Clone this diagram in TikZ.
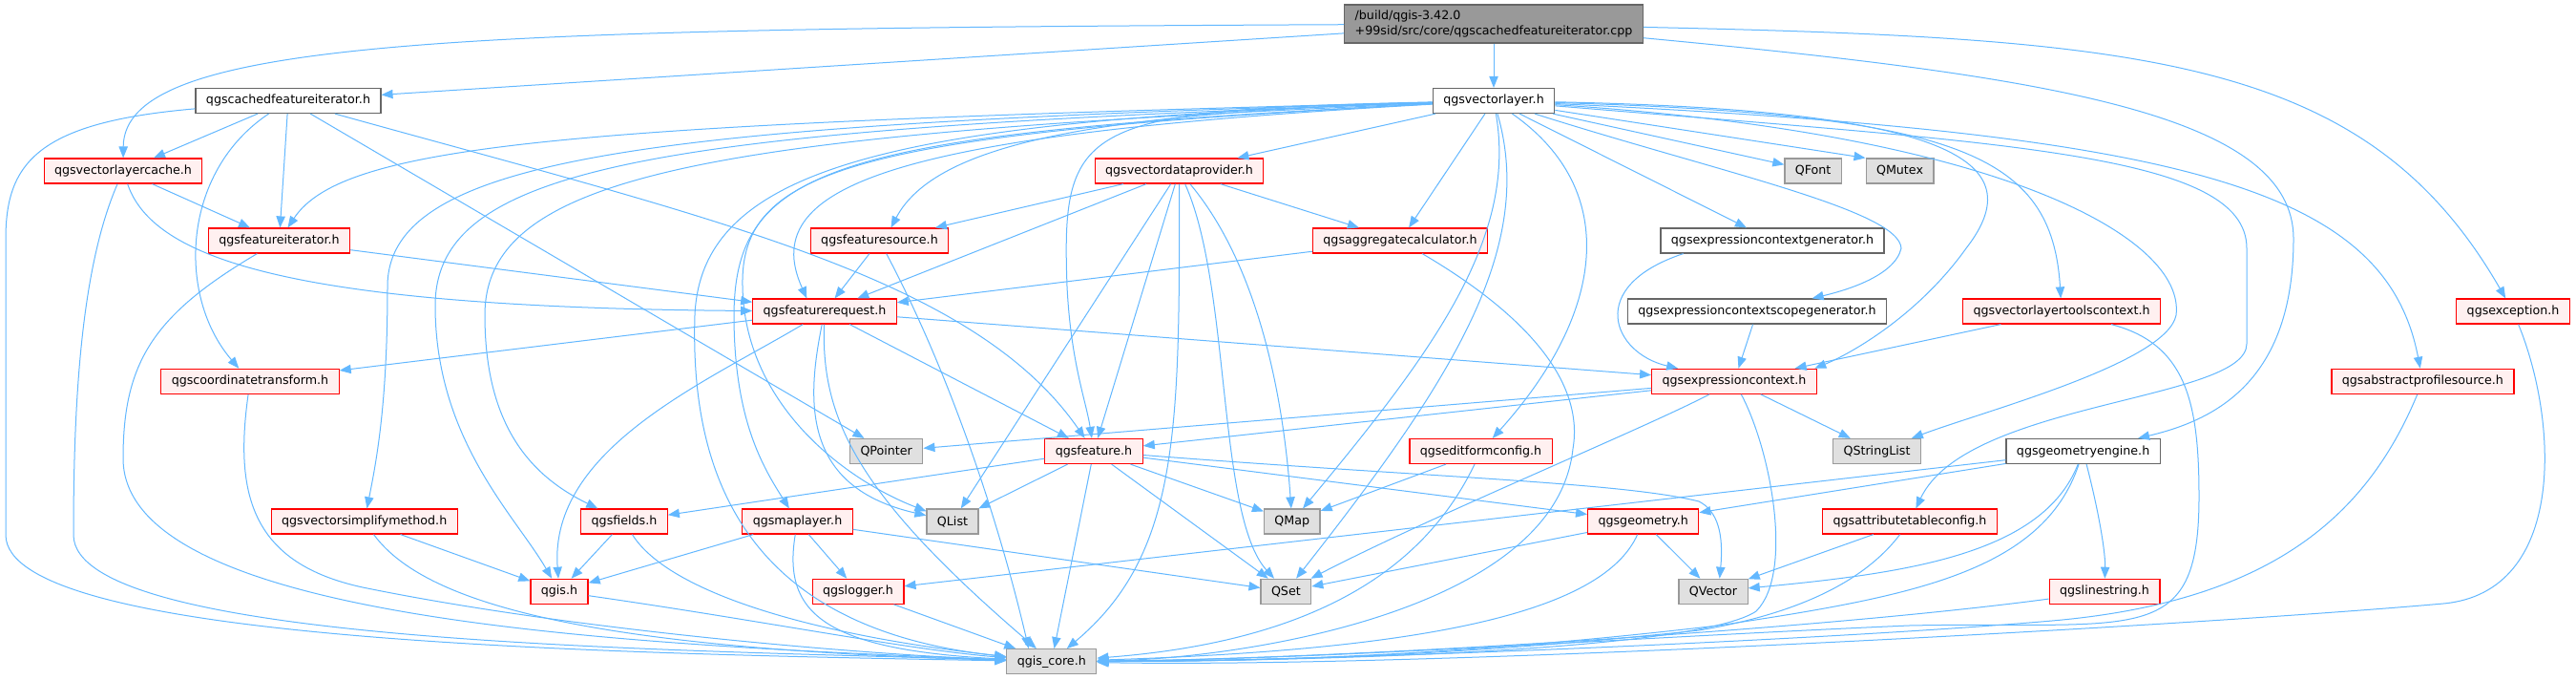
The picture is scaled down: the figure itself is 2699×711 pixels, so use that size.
\documentclass[tikz,border=0pt]{standalone}
\usepackage{fontspec}
\setmainfont{DejaVu Sans}
\usetikzlibrary{arrows.meta}
\definecolor{edgeblue}{HTML}{63B8FF}
\definecolor{hotfill}{HTML}{FFF0F0}
\definecolor{qtfill}{HTML}{E0E0E0}
\definecolor{qtline}{HTML}{999999}
\definecolor{plainline}{HTML}{666666}
\definecolor{rootfill}{HTML}{999999}
\begin{document}
\begin{tikzpicture}
[x=0.75pt,y=-0.75pt,
every node/.style={draw,rectangle,inner xsep=8.2pt,inner ysep=0pt,minimum height=19.5pt,line width=0.9pt,font=\fontsize{9.5}{11.3}\selectfont},
plainbox/.style={draw=plainline,fill=white},
hotbox/.style={draw=red,fill=hotfill},
qtbox/.style={draw=qtline,fill=qtfill},
rootbox/.style={draw=plainline,fill=rootfill,align=left,minimum height=30pt},
incl/.style={draw=edgeblue,line width=0.75pt,-{Triangle[length=9pt,width=7pt]}}]
\fill[white] (0,0) rectangle (2699,711);
\useasboundingbox (0,0) rectangle (2699,711);
\node[rootbox] (root) at (1565,25) {/build/qgis-3.42.0\\+99sid/src/core/qgscachedfeatureiterator.cpp};
\node[plainbox] (cfi) at (302,105.5) {qgscachedfeatureiterator.h};
\node[plainbox] (vl) at (1565,105.5) {qgsvectorlayer.h};
\node[hotbox] (vlc) at (129,179) {qgsvectorlayercache.h};
\node[hotbox] (vdp) at (1235.5,179) {qgsvectordataprovider.h};
\node[qtbox] (qfont) at (1899.6,179) {QFont};
\node[qtbox] (qmutex) at (1990.5,179) {QMutex};
\node[hotbox] (fi) at (292.5,252) {qgsfeatureiterator.h};
\node[hotbox] (fsrc) at (921.5,252) {qgsfeaturesource.h};
\node[hotbox] (aggr) at (1467,252) {qgsaggregatecalculator.h};
\node[plainbox] (ecg) at (1857,252) {qgsexpressioncontextgenerator.h};
\node[hotbox] (freq) at (864,326) {qgsfeaturerequest.h};
\node[plainbox] (ecsg) at (1841,326) {qgsexpressioncontextscopegenerator.h};
\node[hotbox] (vltc) at (2160,326) {qgsvectorlayertoolscontext.h};
\node[hotbox] (exc) at (2633,326) {qgsexception.h};
\node[hotbox] (ct) at (262,399.3) {qgscoordinatetransform.h};
\node[hotbox] (ec) at (1817,399.3) {qgsexpressioncontext.h};
\node[hotbox] (aps) at (2538.4,399.3) {qgsabstractprofilesource.h};
\node[qtbox] (qptr) at (928.7,472.5) {QPointer};
\node[hotbox] (feat) at (1146,472.5) {qgsfeature.h};
\node[hotbox] (efc) at (1551.5,472.5) {qgseditformconfig.h};
\node[qtbox] (qsl) at (1966.5,472.5) {QStringList};
\node[plainbox] (ge) at (2182.6,472.5) {qgsgeometryengine.h};
\node[hotbox] (vsm) at (381.7,546) {qgsvectorsimplifymethod.h};
\node[hotbox] (flds) at (654,546) {qgsfields.h};
\node[hotbox] (ml) at (835.5,546) {qgsmaplayer.h};
\node[qtbox] (qlist) at (998,546) {QList};
\node[qtbox] (qmap) at (1353.8,546) {QMap};
\node[hotbox] (geom) at (1721.7,546) {qgsgeometry.h};
\node[hotbox] (atc) at (2001,546) {qgsattributetableconfig.h};
\node[hotbox] (qgis) at (586,619.3) {qgis.h};
\node[hotbox] (log) at (899,619.3) {qgslogger.h};
\node[qtbox] (qset) at (1347.4,619.3) {QSet};
\node[qtbox] (qvec) at (1795,619.3) {QVector};
\node[hotbox] (ls) at (2205,619.3) {qgslinestring.h};
\node[qtbox] (core) at (1101.8,692.7) {qgis\_core.h};
\foreach \from/\to in {root/cfi,root/vl,cfi/vlc,cfi/fi,cfi/qptr,vlc/fi,fi/freq,fsrc/freq,vdp/fsrc,vdp/freq,vdp/aggr,vdp/qlist,vdp/feat,aggr/freq,vl/vdp,vl/aggr,vl/qfont,vl/ecg,freq/feat,freq/ct,freq/ec,feat/core,feat/qlist,feat/qmap,feat/qset,feat/geom,feat/flds,ecsg/ec,vltc/ec,ec/qsl,ec/qptr,ec/feat,efc/qmap,ge/geom,ge/log,atc/qvec,geom/qset,geom/qvec,ml/qgis,ml/log,ml/qset,flds/qgis,vsm/qgis,log/core}
\draw[incl] (\from) -- (\to);
\draw[incl] (vl) -- (qmutex.north west);
\draw[incl] (root) .. controls (480,30) and (130,40) .. (vlc);
\draw[incl] (root) .. controls (2250,40) and (2480,60) .. (exc);
\draw[incl] (root) .. controls (2150,80) and (2403,120) .. (2403,250) .. controls (2403,400) and (2320,440) .. (ge);
\draw[incl] (cfi) .. controls (40,128) and (6,170) .. (6,250) -- (6,560) .. controls (6,670) and (600,684) .. (core);
\draw[incl] (cfi) .. controls (190,180) and (185,310) .. (ct);
\draw[incl] (cfi) .. controls (750,230) and (1020,290) .. (feat);
\draw[incl] (vlc) .. controls (85,280) and (77,420) .. (77,560) .. controls (77,675) and (700,680) .. (core);
\draw[incl] (vlc) .. controls (160,270) and (300,322) .. (freq);
\draw[incl] (fi) .. controls (160,330) and (129,380) .. (129,480) .. controls (129,650) and (650,675) .. (core);
\draw[incl] (ct) .. controls (245,520) and (265,590) .. (380,615) .. controls (600,660) and (900,685) .. (core);
\draw[incl] (freq) .. controls (740,400) and (575,470) .. (qgis);
\draw[incl] (freq) .. controls (845,420) and (840,510) .. (qlist);
\draw[incl] (freq) .. controls (860,440) and (900,520) .. (core);
\draw[incl] (fsrc) .. controls (1000,400) and (1050,560) .. ([xshift=-18pt]core.north);
\draw[incl] (vdp) .. controls (1236,450) and (1236,580) .. ([xshift=12pt]core.north);
\draw[incl] (vdp) .. controls (1290,300) and (1275,540) .. (qset);
\draw[incl] (vdp) .. controls (1320,280) and (1345,420) .. (qmap);
\draw[incl] (aggr) .. controls (1600,330) and (1660,400) .. (1648,470) .. controls (1630,640) and (1300,690) .. (core);
\draw[incl] (vl) .. controls (600,130) and (360,150) .. (fi);
\draw[incl] (vl) .. controls (700,130) and (406,160) .. (406,300) .. controls (406,420) and (395,480) .. (vsm);
\draw[incl] (vl) .. controls (700,135) and (456,170) .. (456,320) .. controls (456,460) and (540,540) .. (qgis);
\draw[incl] (vl) .. controls (750,140) and (508,180) .. (508,330) .. controls (508,450) and (560,500) .. (flds);
\draw[incl] (vl) .. controls (950,125) and (735,170) .. (728,330) .. controls (722,520) and (800,660) .. (core);
\draw[incl] (vl) .. controls (880,140) and (770,170) .. (769,330) .. controls (769,440) and (800,490) .. (ml);
\draw[incl] (vl) .. controls (900,140) and (775,175) .. (778,300) .. controls (780,420) and (880,500) .. (qlist);
\draw[incl] (vl) .. controls (950,140) and (790,190) .. ([xshift=-14pt]freq.north);
\draw[incl] (vl) .. controls (1150,118) and (980,150) .. ([xshift=9pt]fsrc.north);
\draw[incl] (vl) .. controls (1130,115) and (1112,130) .. (1118,300) .. controls (1122,380) and (1138,420) .. (feat);
\draw[incl] (vl) .. controls (1590,250) and (1500,370) .. (qmap);
\draw[incl] (vl) .. controls (1610,260) and (1520,400) .. (qset);
\draw[incl] (vl) .. controls (1700,200) and (1680,330) .. (efc);
\draw[incl] (vl) .. controls (1800,180) and (1990,220) .. (1992,260) .. controls (1985,290) and (1930,305) .. (ecsg);
\draw[incl] (vl) .. controls (2050,115) and (2130,170) .. (2060,260) .. controls (2010,330) and (1940,370) .. ([xshift=-2pt]ec.north east);
\draw[incl] (vl) .. controls (2050,120) and (2150,160) .. (vltc);
\draw[incl] (vl) .. controls (2100,140) and (2290,250) .. (2280,330) .. controls (2270,380) and (2080,430) .. (qsl);
\draw[incl] (vl) .. controls (2100,150) and (2354,160) .. (2354,260) -- (2354,360) .. controls (2354,420) and (2060,420) .. (atc);
\draw[incl] (vl) .. controls (2300,140) and (2500,200) .. (aps);
\draw[incl] ([xshift=-70pt]ecg.south) .. controls (1660,300) and (1690,370) .. (ec);
\draw[incl] (vltc) .. controls (2290,360) and (2304,420) .. (2304,520) .. controls (2304,680) and (2240,650) .. (2000,655) .. controls (1700,668) and (1400,690) .. (core);
\draw[incl] (exc) .. controls (2680,440) and (2690,620) .. (2560,632) .. controls (2300,655) and (1500,700) .. (core);
\draw[incl] (aps) .. controls (2480,540) and (2380,630) .. (2150,650) .. controls (1920,670) and (1400,692) .. (core);
\draw[incl] (ge) .. controls (2140,580) and (2000,600) .. (qvec);
\draw[incl] (ge) .. controls (2140,600) and (2000,625) .. (1800,655) .. controls (1500,690) and (1300,692) .. (core);
\draw[incl] (ge) .. controls (2200,540) and (2206,580) .. (ls);
\draw[incl] (ls) .. controls (1900,660) and (1400,690) .. (core);
\draw[incl] (atc) .. controls (1960,600) and (1900,640) .. (1780,660) .. controls (1500,690) and (1300,692) .. (core);
\draw[incl] (ec) .. controls (1720,450) and (1500,540) .. (qset);
\draw[incl] (ec) .. controls (1855,470) and (1880,600) .. (1840,640) .. controls (1780,680) and (1400,692) .. (core);
\draw[incl] (efc) .. controls (1500,580) and (1400,670) .. (core);
\draw[incl] (geom) .. controls (1680,640) and (1500,680) .. (core);
\draw[incl] (feat) .. controls (1500,500) and (1700,505) .. (1780,525) .. controls (1800,535) and (1806,560) .. ([xshift=5pt]qvec.north);
\draw[incl] (qgis) .. controls (800,650) and (950,680) .. (core);
\draw[incl] (ml) .. controls (820,640) and (860,680) .. (core);
\draw[incl] (flds) .. controls (700,620) and (850,665) .. (core);
\draw[incl] (vsm) .. controls (450,640) and (650,680) .. (core);
\end{tikzpicture}
\end{document}
